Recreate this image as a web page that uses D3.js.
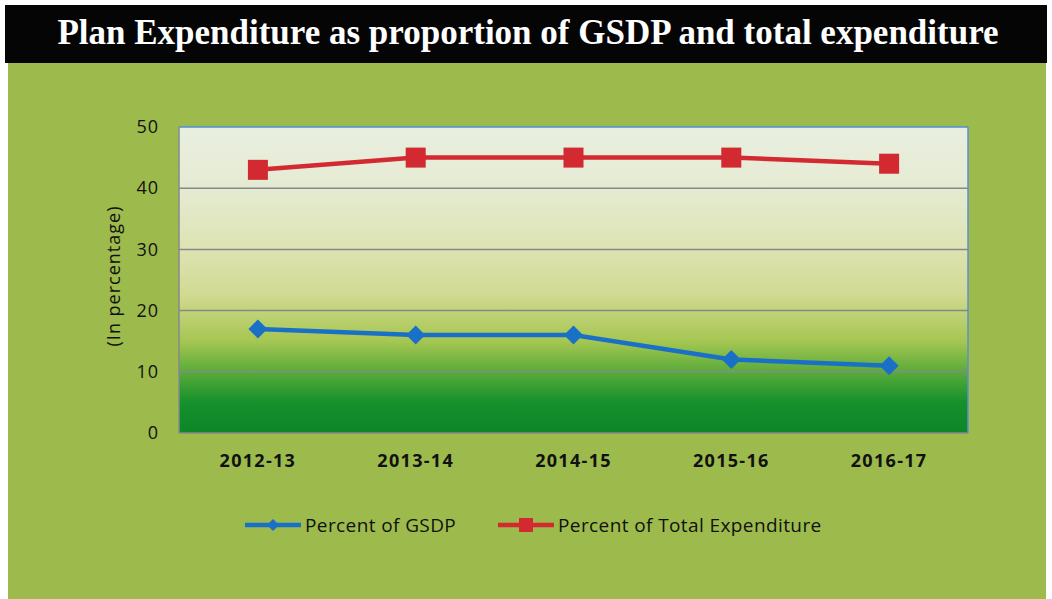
<!DOCTYPE html>
<html>
<head>
<meta charset="utf-8">
<script src="https://cdn.jsdelivr.net/npm/d3@7"></script>
<style>
  body { margin: 0; background: #fff; }
  svg { display: block; }
</style>
</head>
<body>
<svg id="chart"></svg>
<script>
const width = 1052;
const height = 599;

// data
const years = ['2012-13', '2013-14', '2014-15', '2015-16', '2016-17'];
const gsdpValues = [17, 16, 16, 12, 11];
const totalExpValues = [43, 45, 45, 45, 44];
const yTicks = [0, 10, 20, 30, 40, 50];
const seriesNames = ['Percent of GSDP', 'Percent of Total Expenditure'];

const svg = d3.select('#chart')
  .attr('width', width)
  .attr('height', height);

const defs = svg.append('defs');

// plot-area gradient: pale top, yellowish middle, green bottom
const grad = defs.append('linearGradient')
  .attr('id', 'plotGrad')
  .attr('x1', 0).attr('y1', 0).attr('x2', 0).attr('y2', 1);
[
  [0, '#e9efe0'],
  [0.2, '#e5ebd2'],
  [0.4, '#dde3b2'],
  [0.55, '#d0da92'],
  [0.6, '#c2d37a'],
  [0.7, '#a6c652'],
  [0.8, '#5aab3a'],
  [0.9, '#15902c'],
  [1, '#0c8628']
].forEach(([o, c]) => grad.append('stop').attr('offset', o).attr('stop-color', c));

// green page background
svg.append('rect')
  .attr('x', 8).attr('y', 60)
  .attr('width', width - 14).attr('height', height - 60)
  .attr('fill', '#9dba4c');

// title bar
svg.append('rect')
  .attr('x', 5).attr('y', 5)
  .attr('width', width - 10).attr('height', 58)
  .attr('fill', '#050505');

svg.append('text')
  .attr('x', width / 2 + 2)
  .attr('y', 44)
  .attr('text-anchor', 'middle')
  .attr('fill', '#fff')
  .attr('font-family', '"Liberation Serif", "Times New Roman", serif')
  .attr('font-weight', 'bold')
  .attr('font-size', 35)
  .text('Plan Expenditure as proportion of GSDP and total expenditure');

const margin = {left: 179, right: 1052 - 968, top: 127, bottom: 599 - 433};
const plotW = width - margin.left - margin.right;
const plotH = height - margin.top - margin.bottom;

const x = d3.scaleBand()
  .domain(years)
  .range([margin.left, margin.left + plotW]);

const y = d3.scaleLinear()
  .domain([0, 50])
  .range([margin.top + plotH, margin.top]);

svg.append('rect')
  .attr('x', margin.left).attr('y', margin.top)
  .attr('width', plotW).attr('height', plotH)
  .attr('fill', 'url(#plotGrad)');

// gridlines
svg.append('g')
  .selectAll('line')
  .data(yTicks)
  .enter().append('line')
  .attr('x1', margin.left).attr('x2', margin.left + plotW)
  .attr('y1', d => y(d)).attr('y2', d => y(d))
  .attr('stroke', d => d === 50 ? '#4f8fd6' : '#85898c')
  .attr('stroke-width', 1.5);

// plot frame (left grey, right blue)
svg.append('line')
  .attr('x1', margin.left).attr('x2', margin.left)
  .attr('y1', margin.top).attr('y2', margin.top + plotH)
  .attr('stroke', '#85898c').attr('stroke-width', 1.5);
svg.append('line')
  .attr('x1', margin.left + plotW).attr('x2', margin.left + plotW)
  .attr('y1', margin.top).attr('y2', margin.top + plotH)
  .attr('stroke', '#5a90d0').attr('stroke-width', 1.5);

// y axis labels
const yAxis = svg.append('g')
  .attr('transform', `translate(${margin.left - 20},0)`)
  .call(d3.axisLeft(y).tickValues(yTicks).tickSize(0).tickPadding(0));
yAxis.select('.domain').remove();
yAxis.selectAll('text')
  .attr('font-family', '"Open Sans", sans-serif')
  .attr('font-size', 18)
  .attr('letter-spacing', 1)
  .attr('fill', '#111');

// x axis labels
const xAxis = svg.append('g')
  .attr('transform', `translate(0,${margin.top + plotH + 21})`)
  .call(d3.axisBottom(x).tickSize(0).tickPadding(0));
xAxis.select('.domain').remove();
xAxis.selectAll('text')
  .attr('font-family', '"Open Sans", sans-serif')
  .attr('font-weight', 'bold')
  .attr('font-size', 18)
  .attr('letter-spacing', 1.3)
  .attr('fill', '#111');

// y axis title
svg.append('text')
  .attr('transform', `translate(120,276) rotate(-90)`)
  .attr('text-anchor', 'middle')
  .attr('font-family', '"Open Sans", sans-serif')
  .attr('font-size', 18)
  .attr('letter-spacing', 1)
  .attr('fill', '#111')
  .text('(In percentage)');

const cx = d => x(d) + x.bandwidth() / 2;
const line = d3.line()
  .x(d => cx(d.year))
  .y(d => y(d.value));

const gsdp = years.map((yr, i) => ({year: yr, value: gsdpValues[i]}));
const total = years.map((yr, i) => ({year: yr, value: totalExpValues[i]}));

const blue = '#1a70c6';
const red = '#d22a30';

svg.append('path')
  .datum(gsdp)
  .attr('d', line)
  .attr('fill', 'none')
  .attr('stroke', blue)
  .attr('stroke-width', 4.5);

svg.append('g')
  .selectAll('path')
  .data(gsdp)
  .enter().append('path')
  .attr('d', d3.symbol().type(d3.symbolDiamond2).size(230))
  .attr('transform', d => `translate(${cx(d.year)},${y(d.value)})`)
  .attr('fill', blue);

svg.append('path')
  .datum(total)
  .attr('d', line)
  .attr('fill', 'none')
  .attr('stroke', red)
  .attr('stroke-width', 4.5);

svg.append('g')
  .selectAll('rect')
  .data(total)
  .enter().append('rect')
  .attr('x', d => cx(d.year) - 10)
  .attr('y', d => y(d.value) - 10)
  .attr('width', 20).attr('height', 20)
  .attr('fill', red);

// legend
const legend = svg.append('g').attr('transform', 'translate(0,525)');
const legendItems = [
  {name: seriesNames[0], color: blue, x: 245, marker: 'diamond'},
  {name: seriesNames[1], color: red, x: 498, marker: 'square'}
];
legendItems.forEach(item => {
  legend.append('line')
    .attr('x1', item.x).attr('x2', item.x + 56)
    .attr('y1', 0).attr('y2', 0)
    .attr('stroke', item.color).attr('stroke-width', 4.5);
  if (item.marker === 'diamond') {
    legend.append('path')
      .attr('d', d3.symbol().type(d3.symbolDiamond2).size(90))
      .attr('transform', `translate(${item.x + 28},0)`)
      .attr('fill', item.color);
  } else {
    legend.append('rect')
      .attr('x', item.x + 21).attr('y', -7)
      .attr('width', 14).attr('height', 14)
      .attr('fill', item.color);
  }
  legend.append('text')
    .attr('x', item.x + 60)
    .attr('y', 6.5)
    .attr('font-family', '"Open Sans", sans-serif')
    .attr('font-size', 19)
    .attr('letter-spacing', 0.4)
    .attr('fill', '#111')
    .text(item.name);
});
</script>
</body>
</html>
